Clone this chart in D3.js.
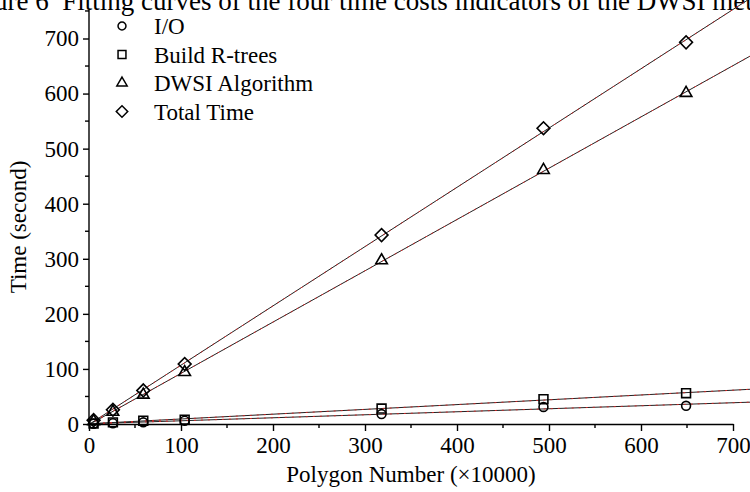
<!DOCTYPE html>
<html>
<head>
<meta charset="utf-8">
<script src="https://cdn.jsdelivr.net/npm/d3@7"></script>
<style>
  body { margin: 0; background: #fff; }
  text { font-family: "Liberation Serif", "Times New Roman", serif; fill: #000; }
  .axis path, .axis line { stroke: #000; stroke-width: 1.4; }
</style>
</head>
<body>
<div id="chart"></div>
<script>
// polygon number (x10000)
var polygons = [5, 26, 59, 104, 318, 494, 649];

// time in seconds, one array per indicator
var ioTime = [0.5, 1.5, 3, 6, 18, 31, 33];
var rtreeTime = [1, 3, 6, 8, 28, 45, 56];
var dwsiTime = [5, 22, 53, 94, 297, 461, 601];
var totalTime = [7, 26, 61, 109, 343, 537, 693];

var seriesNames = ["I/O", "Build R-trees", "DWSI Algorithm", "Total Time"];
var xTicks = [0, 100, 200, 300, 400, 500, 600, 700];
var yTicks = [0, 100, 200, 300, 400, 500, 600, 700];

(function () {

  var width = 750, height = 492;

  var svg = d3.select("#chart")
    .append("svg")
    .attr("width", width)
    .attr("height", height);

  svg.append("rect")
    .attr("width", width)
    .attr("height", height)
    .attr("fill", "#fff");

  //scales
  var xPositionScale = d3.scaleLinear()
    .domain([0, 700])
    .range([89, 733]);

  var yPositionScale = d3.scaleLinear()
    .domain([0, 700])
    .range([424, 38.5]);

  var shapes = [
    { type: d3.symbolCircle, size: 62, rot: 0 },
    { type: d3.symbolSquare, size: 78, rot: 0 },
    { type: d3.symbolTriangle, size: 58, rot: 0 },
    { type: d3.symbolSquare, size: 82, rot: 45 }
  ];

  var series = [ioTime, rtreeTime, dwsiTime, totalTime].map(function (vals, i) {
    return {
      name: seriesNames[i],
      shape: shapes[i],
      points: polygons.map(function (p, j) { return { x: p, y: vals[j] }; })
    };
  });

  //cut-off figure caption at the top
  svg.append("text")
    .attr("x", -42)
    .attr("y", 10)
    .attr("font-size", 27)
    .attr("xml:space", "preserve")
    .text("Figure 6  Fitting curves of the four time costs indicators of the DWSI method");

  //minor ticks
  var xMinor = d3.range(50, 700, 100);
  var yMinor = d3.range(50, 800, 100);

  //x axis
  var xAxis = d3.axisBottom(xPositionScale)
    .tickValues(xTicks)
    .tickSize(7)
    .tickSizeOuter(0)
    .tickPadding(6);
  var gx = svg.append("g")
    .attr("class", "axis x-axis")
    .attr("transform", "translate(0,424)")
    .call(xAxis);
  gx.selectAll("text").attr("font-size", 23).attr("font-family", "Liberation Serif");
  gx.selectAll(".minor")
    .data(xMinor)
    .enter().append("line")
    .attr("class", "minor")
    .attr("x1", function (d) { return xPositionScale(d); })
    .attr("x2", function (d) { return xPositionScale(d); })
    .attr("y1", 0)
    .attr("y2", 4);

  //y axis, line runs up past 700
  var yAxis = d3.axisLeft(yPositionScale)
    .tickValues(yTicks)
    .tickSize(6)
    .tickSizeOuter(0)
    .tickPadding(4);
  var gy = svg.append("g")
    .attr("class", "axis y-axis")
    .attr("transform", "translate(89,0)")
    .call(yAxis);
  gy.select(".domain").remove();
  gy.append("line")
    .attr("x1", 0).attr("x2", 0)
    .attr("y1", yPositionScale(0) + 0.7)
    .attr("y2", yPositionScale(752));
  gy.selectAll("text").attr("font-size", 23).attr("font-family", "Liberation Serif");
  gy.selectAll(".minor")
    .data(yMinor)
    .enter().append("line")
    .attr("class", "minor")
    .attr("x1", 0)
    .attr("x2", -4)
    .attr("y1", function (d) { return yPositionScale(d); })
    .attr("y2", function (d) { return yPositionScale(d); });

  //axis titles
  svg.append("text")
    .attr("x", 411)
    .attr("y", 482)
    .attr("text-anchor", "middle")
    .attr("font-size", 23)
    .text("Polygon Number (\u00d710000)");

  svg.append("text")
    .attr("transform", "translate(26,227) rotate(-90)")
    .attr("text-anchor", "middle")
    .attr("font-size", 23)
    .text("Time (second)");

  //linear fit of each series
  function fit(points) {
    var mx = d3.mean(points, function (d) { return d.x; }),
        my = d3.mean(points, function (d) { return d.y; });
    var sxy = d3.sum(points, function (d) { return (d.x - mx) * (d.y - my); }),
        sxx = d3.sum(points, function (d) { return (d.x - mx) * (d.x - mx); });
    var b = sxy / sxx;
    return { a: my - b * mx, b: b };
  }

  var line = d3.line()
    .x(function (d) { return xPositionScale(d[0]); })
    .y(function (d) { return yPositionScale(d[1]); });

  series.forEach(function (s) {
    var f = fit(s.points);
    var ends = [0, 725].map(function (x) { return [x, f.a + f.b * x]; });
    svg.append("path")
      .attr("d", line(ends))
      .attr("fill", "none")
      .attr("stroke", "#222")
      .attr("stroke-width", 1);
    svg.append("path")
      .attr("d", line(ends))
      .attr("fill", "none")
      .attr("stroke", "#d22")
      .attr("stroke-width", 0.9)
      .attr("stroke-dasharray", "2,5");
  });

  //markers
  series.forEach(function (s) {
    var sym = d3.symbol().type(s.shape.type).size(s.shape.size);
    svg.selectAll(null)
      .data(s.points)
      .enter().append("path")
      .attr("d", sym)
      .attr("transform", function (d) {
        return "translate(" + xPositionScale(d.x) + "," + yPositionScale(d.y) + ") rotate(" + s.shape.rot + ")";
      })
      .attr("fill", "none")
      .attr("stroke", "#000")
      .attr("stroke-width", 1.6);
  });

  //legend
  var legend = svg.selectAll(".legend")
    .data(series)
    .enter().append("g")
    .attr("class", "legend")
    .attr("transform", function (d, i) { return "translate(122," + (26 + i * 28.5) + ")"; });

  legend.append("path")
    .attr("d", function (d) { return d3.symbol().type(d.shape.type).size(d.shape.size * 0.8)(); })
    .attr("transform", function (d) { return "rotate(" + d.shape.rot + ")"; })
    .attr("fill", "none")
    .attr("stroke", "#000")
    .attr("stroke-width", 1.5);

  legend.append("text")
    .attr("x", 32)
    .attr("dy", "0.35em")
    .attr("font-size", 23)
    .text(function (d) { return d.name; });

})()
</script>
</body>
</html>
